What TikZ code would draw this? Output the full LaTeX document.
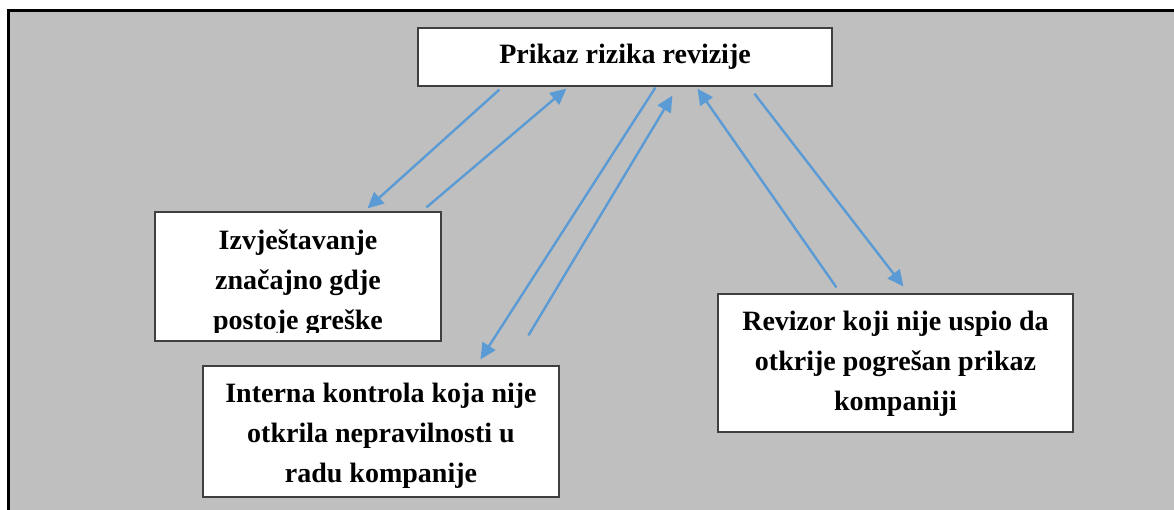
\documentclass[tikz,border=0pt]{standalone}
\usepackage{fontspec}
\setmainfont{Liberation Serif}
\usetikzlibrary{arrows.meta,calc}
\definecolor{panelgray}{HTML}{BFBFBF}
\definecolor{linkblue}{HTML}{5B9BD5}
\definecolor{boxline}{HTML}{3F3F3F}
\begin{document}
\begin{tikzpicture}[x=1pt,y=-1pt,
  box/.style={draw=boxline, line width=1.2pt, fill=white, inner sep=0pt},
  boxtext/.style={font=\fontsize{28}{40}\selectfont\bfseries, align=center, inner sep=0pt},
  link/.style={draw=linkblue, line width=2.4pt, -{Triangle[length=16pt,width=15pt]}}]
% page and grey panel with its black frame
\clip (0,0) rectangle (1174,510);
\fill[white] (0,0) rectangle (1174,510);
\draw[fill=panelgray, line width=3pt] (8,11) rectangle (1195,530);

% boxes
\node[box, boxtext, minimum width=414pt, minimum height=58pt] (risk) at (625,57) {Prikaz rizika revizije};
\node[box, minimum width=286pt, minimum height=129pt] (report) at (298,276.5) {};
\node[box, minimum width=356pt, minimum height=131pt] (control) at (381,431.5) {};
\node[box, minimum width=355pt, minimum height=138pt] (auditor) at (895.5,363) {};

% box texts (the first box's last line runs past its text area)
\begin{scope}
  \clip ($(report.north west)+(1,1)$) rectangle ($(report.south east)+(-1,-9)$);
  \node[boxtext] (reporttext) at ($(report.center)+(0,6)$) {Izvještavanje\\značajno gdje\\postoje greške};
\end{scope}
\node[boxtext] (controltext) at ($(control.center)+(0,4)$) {Interna kontrola koja nije\\otkrila nepravilnosti u\\radu kompanije};
\node[boxtext] (auditortext) at ($(auditor.center)+(0,0.5)$) {Revizor koji nije uspio da\\otkrije pogrešan prikaz\\kompaniji};

% connectors
\draw[link] ($(risk.south west)+(82,3)$) -- ($(report.north west)+(213,-3)$);
\draw[link] ($(report.north west)+(272,-4)$) -- ($(risk.south west)+(149,2)$);
\draw[link] ($(risk.south west)+(238,1)$) -- ($(control.north west)+(278,-6)$);
\draw[link] ($(control.north west)+(326,-30)$) -- ($(risk.south west)+(255,9)$);
\draw[link] ($(auditor.north west)+(119,-6)$) -- ($(risk.south west)+(280,2)$);
\draw[link] ($(risk.south west)+(337,7)$) -- ($(auditor.north west)+(186,-7)$);
\end{tikzpicture}
\end{document}
